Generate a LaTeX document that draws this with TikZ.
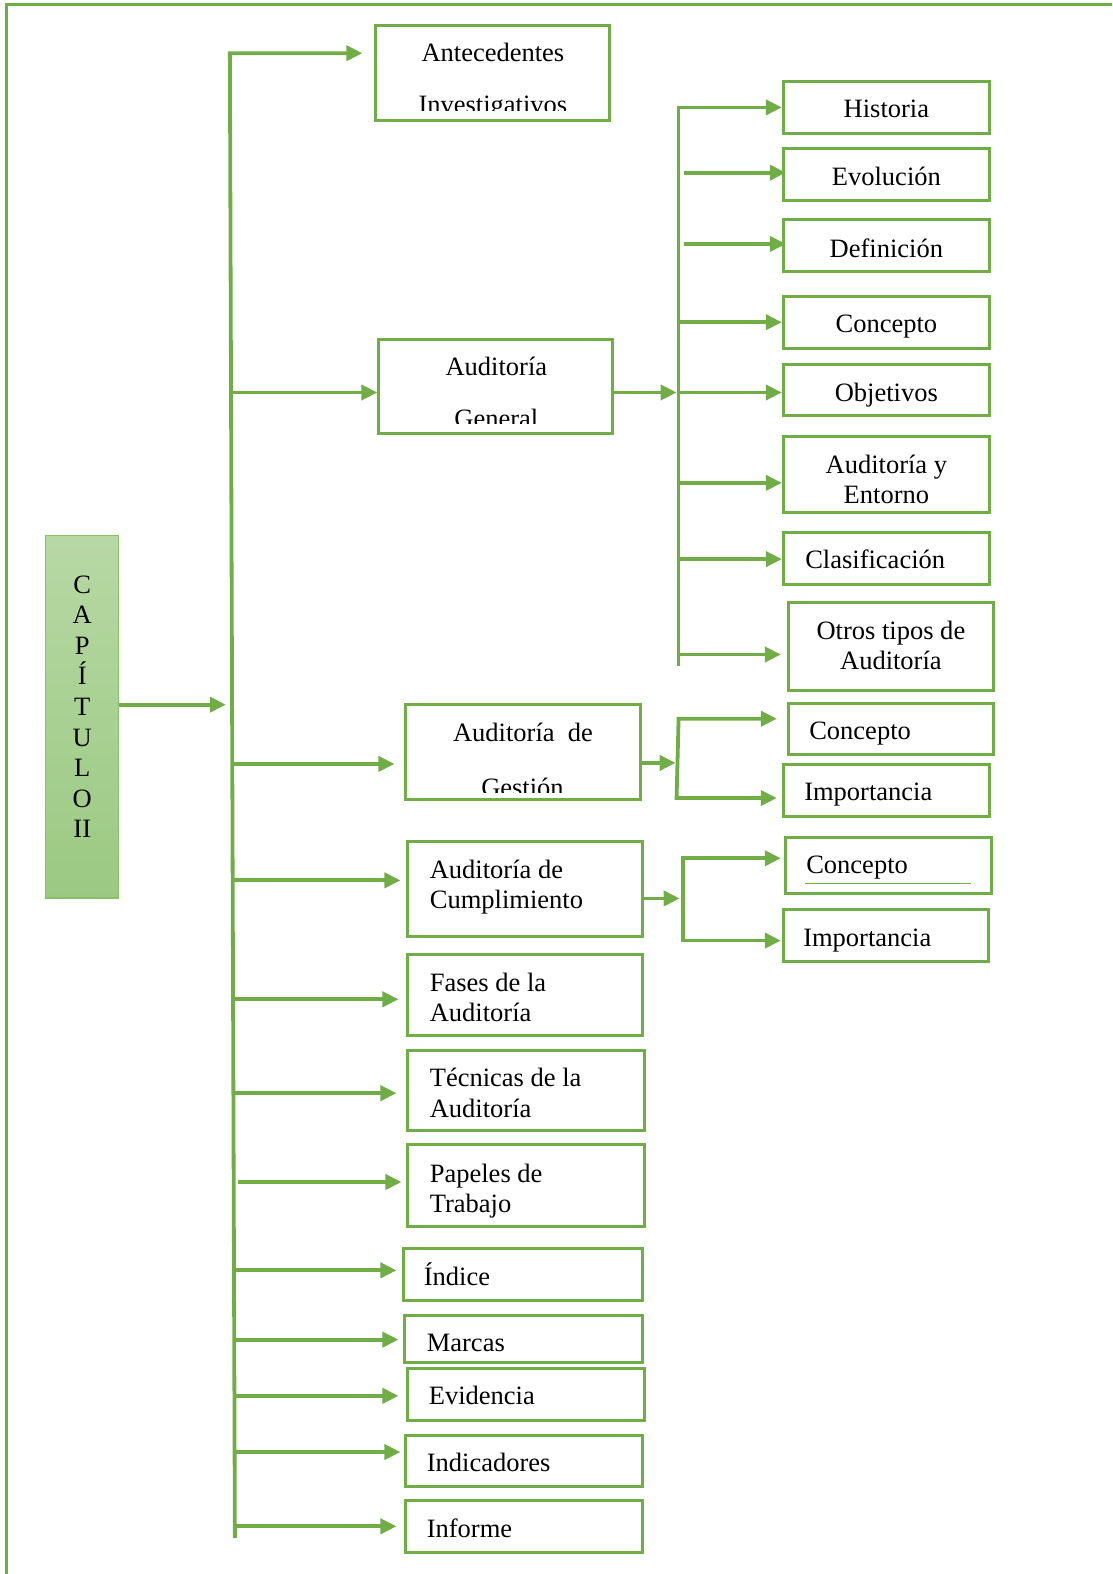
\documentclass[tikz,border=0pt]{standalone}
\usepackage{fontspec}
\setmainfont{Liberation Serif}
\usetikzlibrary{arrows.meta,calc}
\definecolor{grn}{RGB}{112,173,71}
\definecolor{capedge}{RGB}{138,192,104}
\definecolor{captop}{RGB}{183,216,164}
\definecolor{capbot}{RGB}{155,201,130}

\begin{document}
\begin{tikzpicture}[x=1.0036pt,y=-1.0036pt,
  tip/.tip={Triangle[length=16pt,width=15pt]},
  conn/.style={draw=grn,line width=3.8pt,-tip},
  connback/.style={draw=grn,line width=3.8pt,tip-},
  conntwo/.style={draw=grn,line width=3.8pt,tip-tip},
  box/.style={draw=grn,line width=3pt,inner sep=0pt,fill=white},
  txt/.style={inner sep=0pt,anchor=base,font=\fontsize{26.5}{30.5}\selectfont},
  ltxt/.style={txt,anchor=base west}]

\useasboundingbox (0,0) rectangle (1108,1568);

% page frame (top and left edges)
\draw[grn,line width=3pt] (1108,4) -- (6,4) -- (6,1568);

% chapter box
\node[draw=capedge,line width=1.5pt,top color=captop,bottom color=capbot,
  minimum width=73pt,minimum height=362pt,inner sep=0pt] (cap) at (81.5,714) {};
\node[align=center,inner sep=0pt,font=\fontsize{26.5}{30.6}\selectfont] (captxt) at (82,704)
  {C\\A\\P\\Í\\T\\U\\L\\O\\II};

% first level boxes
\node[box,minimum width=234pt,minimum height=95pt] (ant) at (491,72.5) {};
\node[box,minimum width=234pt,minimum height=94pt] (gen) at (494,385) {};
\node[box,minimum width=234pt,minimum height=95pt] (ges) at (521,749.5) {};
\node[box,minimum width=234pt,minimum height=95pt] (cum) at (523,885.5) {};
\node[box,minimum width=234pt,minimum height=81pt] (fas) at (523,991.5) {};
\node[box,minimum width=236pt,minimum height=80pt] (tec) at (524,1086) {};
\node[box,minimum width=236pt,minimum height=82pt] (pap) at (524,1181) {};
\node[box,minimum width=238pt,minimum height=52pt] (ind) at (521,1270) {};
\node[box,minimum width=237pt,minimum height=47pt] (mar) at (521.5,1333.5) {};
\node[box,minimum width=236pt,minimum height=52pt] (evi) at (524,1389) {};
\node[box,minimum width=236pt,minimum height=51pt] (indic) at (522,1455.5) {};
\node[box,minimum width=236pt,minimum height=52pt] (inf) at (522,1521) {};

% two-line titles cut off by their box
\begin{scope}
  \clip (376,27) rectangle (606,110);
  \node[txt] (antA) at (491,61) {Antecedentes};
  \node[txt] (antB) at (491,113) {Investigativos};
\end{scope}
\begin{scope}
  \clip (379,340) rectangle (609,422);
  \node[txt] (genA) at (494.5,374) {Auditoría};
  \node[txt] (genB) at (494.5,426) {General};
\end{scope}
\begin{scope}
  \clip (406,704) rectangle (636,789);
  \node[txt] (gesA) at (521,739) {Auditoría\ \ de};
  \node[txt] (gesB) at (520.5,793) {Gestión};
\end{scope}

% titles of the first level
\node[ltxt] (cumA) at (428,875.5) {Auditoría de};
\node[ltxt] (cumB) at (428,905) {Cumplimiento};
\node[ltxt] (fasA) at (428,987.5) {Fases de la};
\node[ltxt] (fasB) at (428,1017.5) {Auditoría};
\node[ltxt] (tecA) at (428,1082.5) {Técnicas de la};
\node[ltxt] (tecB) at (428,1113.5) {Auditoría};
\node[ltxt] (papA) at (428,1177.5) {Papeles de};
\node[ltxt] (papB) at (428,1207.5) {Trabajo};
\node[ltxt] (indT) at (422,1280.5) {Índice};
\node[ltxt] (marT) at (425,1346.5) {Marcas};
\node[ltxt] (eviT) at (427,1399.5) {Evidencia};
\node[ltxt] (indicT) at (425,1465.5) {Indicadores};
\node[ltxt] (infT) at (425,1531.5) {Informe};

% second level boxes
\node[box,minimum width=206pt,minimum height=52pt] (his) at (883,107) {};
\node[box,minimum width=206pt,minimum height=52pt] (evo) at (883,174) {};
\node[box,minimum width=206pt,minimum height=52pt] (def) at (883,245) {};
\node[box,minimum width=206pt,minimum height=52pt] (conA) at (883,321) {};
\node[box,minimum width=206pt,minimum height=51pt] (obj) at (883,388.5) {};
\node[box,minimum width=206pt,minimum height=76pt] (ent) at (883,473) {};
\node[box,minimum width=206pt,minimum height=52pt] (cla) at (883,556) {};
\node[box,minimum width=205pt,minimum height=88pt] (otr) at (887.5,644) {};
\node[box,minimum width=205pt,minimum height=51pt] (conB) at (887.5,726.5) {};
\node[box,minimum width=206pt,minimum height=52pt] (impB) at (883,787) {};
\node[box,minimum width=206pt,minimum height=56pt] (conC) at (885,862) {};
\node[box,minimum width=205pt,minimum height=52pt] (impC) at (882.5,932) {};
\draw[grn,line width=1pt] ($(conC.south west)+(21,-11)$) -- ($(conC.south east)+(-22,-11)$);

% titles of the second level
\node[txt] (hisT) at (883,117.5) {Historia};
\node[txt] (evoT) at (883,184.5) {Evolución};
\node[txt] (defT) at (883,256.5) {Definición};
\node[txt] (conAT) at (883,331.5) {Concepto};
\node[txt] (objT) at (883,399.5) {Objetivos};
\node[txt] (entA) at (883,471.5) {Auditoría y};
\node[txt] (entB) at (883,501.5) {Entorno};
\node[ltxt] (claT) at (802,566.5) {Clasificación};
\node[txt] (otrA) at (887.5,637.5) {Otros tipos de};
\node[txt] (otrB) at (887.5,666.5) {Auditoría};
\node[ltxt] (conBT) at (806,736.5) {Concepto};
\node[ltxt] (impBT) at (801,797.5) {Importancia};
\node[ltxt] (conCT) at (803,870.5) {Concepto};
\node[ltxt] (impCT) at (800,942.5) {Importancia};

% main trunk
\coordinate (tTop) at (229,53);
\coordinate (tBot) at (234,1532);
\draw[connback,shorten <=12pt] (ant.west |- tTop) -- (tTop) -- (tBot);

\coordinate (capIn) at (225,702);
\draw[conn] (cap.east |- capIn) -- (capIn);

\coordinate (bGen) at (230,391);
\coordinate (bGes) at (231,761);
\coordinate (bCum) at (232,877);
\coordinate (bFas) at (232,995.5);
\coordinate (bTec) at (232.5,1089);
\coordinate (bPap) at (237,1177.5);
\coordinate (bInd) at (233,1265.5);
\coordinate (bMar) at (233.5,1334.5);
\coordinate (bEvi) at (233.5,1390.5);
\coordinate (bIndic) at (233.5,1446.5);
\coordinate (bInf) at (232,1520.5);
\draw[conn] (bGen) -- (gen.west |- bGen);
\draw[conn,shorten >=10pt] (bGes) -- (ges.west |- bGes);
\draw[conn,shorten >=6pt] (bCum) -- (cum.west |- bCum);
\draw[conn,shorten >=8pt] (bFas) -- (fas.west |- bFas);
\draw[conn,shorten >=10pt] (bTec) -- (tec.west |- bTec);
\draw[conn,shorten >=5pt] (bPap) -- (pap.west |- bPap);
\draw[conn,shorten >=6pt] (bInd) -- (ind.west |- bInd);
\draw[conn,shorten >=5pt] (bMar) -- (mar.west |- bMar);
\draw[conn,shorten >=8pt] (bEvi) -- (evi.west |- bEvi);
\draw[conn,shorten >=4pt] (bIndic) -- (indic.west |- bIndic);
\draw[conn,shorten >=8pt] (bInf) -- (inf.west |- bInf);

% branches of the general audit
\coordinate (rTop) at (676,107);
\coordinate (rBot) at (676,663);
\coordinate (rMid) at (676,391);
\draw[connback] (his.west |- rTop) -- (rTop) -- (rBot);
\draw[conn,shorten >=2pt] (gen.east |- rMid) -- (rMid);
\coordinate (rEvo) at (681,172);
\coordinate (rDef) at (681,243);
\coordinate (rCon) at (676,321);
\coordinate (rEnt) at (676,481);
\coordinate (rCla) at (676,557);
\coordinate (rOtr) at (676,652);
\draw[conn,shorten >=-4pt] (rEvo) -- (evo.west |- rEvo);
\draw[conn,shorten >=-4pt] (rDef) -- (def.west |- rDef);
\draw[conn] (rCon) -- (conA.west |- rCon);
\draw[conn] (rMid) -- (obj.west |- rMid);
\draw[conn] (rEnt) -- (ent.west |- rEnt);
\draw[conn] (rCla) -- (cla.west |- rCla);
\draw[conn,shorten >=6pt] (rOtr) -- (otr.west |- rOtr);

% branches of the management audit
\coordinate (gA) at (676,716);
\coordinate (gB) at (674,795);
\coordinate (gIn) at (673,760);
\draw[conntwo,shorten <=10pt,shorten >=5pt] (conB.west |- gA) -- (gA) -- (gB) -- (impB.west |- gB);
\draw[conn] (ges.east |- gIn) -- (gIn);

% branches of the compliance audit
\coordinate (cA) at (680,855);
\coordinate (cB) at (680,937);
\coordinate (cIn) at (677,895);
\draw[conntwo,shorten <=3pt,shorten >=1pt] (conC.west |- cA) -- (cA) -- (cB) -- (impC.west |- cB);
\draw[conn] (cum.east |- cIn) -- (cIn);

\end{tikzpicture}
\end{document}
